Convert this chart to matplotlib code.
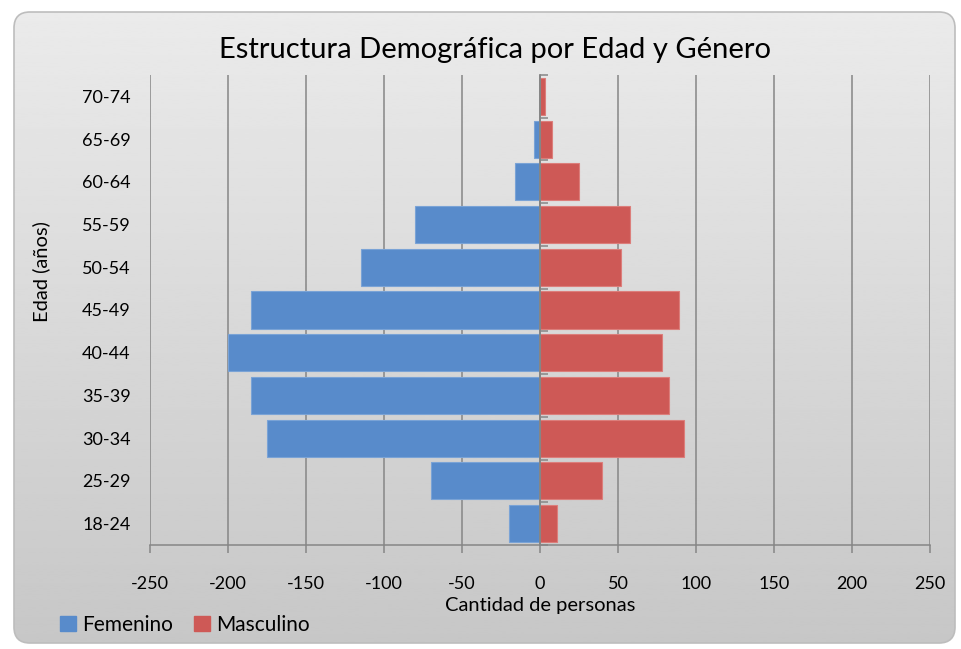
import matplotlib.pyplot as plt
import numpy as np
from matplotlib.patches import FancyBboxPatch, Patch

plt.rcParams['font.family'] = ['Lato', 'DejaVu Sans']

# datos
grupos = ['18-24', '25-29', '30-34', '35-39', '40-44', '45-49',
          '50-54', '55-59', '60-64', '65-69', '70-74']
femenino = [-20, -70, -175, -185, -200, -185, -115, -80, -16, -4, 0]
masculino = [11, 40, 92, 83, 78, 89, 52, 58, 25, 8, 3]
ticks_x = [-250, -200, -150, -100, -50, 0, 50, 100, 150, 200, 250]

azul = '#588BCB'
rojo = '#CE5956'
gris = '#868686'

fig = plt.figure(figsize=(9.61, 6.49), dpi=100)
W, H = 961, 649

# fondo con degradado y esquinas redondeadas
bg = fig.add_axes([0, 0, 1, 1], zorder=-5)
bg.set_xlim(0, W)
bg.set_ylim(0, H)
bg.axis('off')
caja = FancyBboxPatch((14, 6), W - 20, H - 18, boxstyle='round,pad=0,rounding_size=16',
                      facecolor='none', edgecolor='#bdbdbd', linewidth=1.2)
bg.add_patch(caja)
grad = np.linspace(0.78, 0.92, 256).reshape(-1, 1)
img = bg.imshow(grad, cmap='gray', vmin=0, vmax=1, extent=[14, W - 6, 6, H - 12],
                origin='lower', aspect='auto')
img.set_clip_path(caja)

ax = fig.add_axes([150 / W, 1 - 545 / H, 780 / W, 470 / H])
ax.set_facecolor('none')
y = np.arange(len(grupos))
ax.barh(y, femenino, height=0.87, color=azul, edgecolor='#7aa3d6', linewidth=0.8,
        label='Femenino', zorder=3)
ax.barh(y, masculino, height=0.87, color=rojo, edgecolor='#dc7e7b', linewidth=0.8,
        label='Masculino', zorder=3)

ax.set_xlim(-250, 250)
ax.set_ylim(-0.5, len(grupos) - 0.5)
ax.set_xticks(ticks_x)
ax.set_xticklabels([str(t) for t in ticks_x])
ax.set_yticks(y)
ax.set_yticklabels(grupos)
ax.grid(axis='x', color=gris, linewidth=1.1, zorder=0)
for s in ['top', 'right', 'left']:
    ax.spines[s].set_visible(False)
ax.spines['bottom'].set_color(gris)
ax.spines['bottom'].set_linewidth(1.1)
ax.tick_params(axis='x', direction='out', length=6, width=1.1, color=gris,
               pad=16, labelsize=13)
ax.tick_params(axis='y', length=0, pad=14, labelsize=13)

# eje vertical en cero con marcas entre categorías
ax.axvline(0, color=gris, linewidth=1.3, zorder=5)
eje0 = ax.secondary_yaxis(0.5)
eje0.set_yticks(np.arange(len(grupos) + 1) - 0.5)
eje0.set_yticklabels([])
for sp in eje0.spines.values():
    sp.set_color(gris)
    sp.set_linewidth(1.3)
eje0.tick_params(direction='out', length=6, width=1.1, color=gris)
eje0.set_zorder(4)

fig.text(495 / W, 1 - 50 / H, 'Estructura Demográfica por Edad y Género', fontsize=21,
         ha='center', va='center')
ax.set_xlabel('Cantidad de personas', fontsize=14.5, labelpad=4)
fig.text(41 / W, 1 - 272 / H, 'Edad (años)', rotation=90, fontsize=14.5,
         ha='center', va='center')

fig.legend(handles=[Patch(color=azul, label='Femenino'), Patch(color=rojo, label='Masculino')],
           loc='center left', bbox_to_anchor=(52 / W, 1 - 625 / H), ncol=2, frameon=False,
           fontsize=15, handlelength=0.75, handleheight=0.75, handletextpad=0.3,
           columnspacing=1.0, borderaxespad=0)

fig.savefig('out.png', dpi=100)
